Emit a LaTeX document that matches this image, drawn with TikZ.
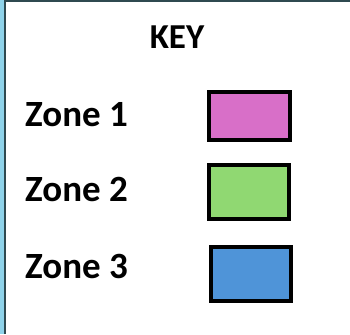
\documentclass[tikz,border=0pt]{standalone}
\usepackage{fontspec}
\setmainfont{Carlito}
\definecolor{zonepink}{HTML}{D86FC8}
\definecolor{zonegreen}{HTML}{90D872}
\definecolor{zoneblue}{HTML}{4F94D8}
\definecolor{edgeblue}{HTML}{8FD3EA}
\definecolor{framegray}{HTML}{2F4A50}
\begin{document}
\begin{tikzpicture}[
  x=1pt, y=-1pt,
  lbl/.style={font=\fontsize{37}{40}\selectfont\bfseries, inner sep=0pt, anchor=base west},
  swatch/.style={draw=black, line width=4pt, inner sep=0pt, minimum width=80pt, minimum height=54pt}
]
  \useasboundingbox (0,0) rectangle (350,334);
  % fundo e moldura
  \fill[white] (0,0) rectangle (350,334);
  \fill[edgeblue] (0,0) rectangle (4.2,334);
  \draw[framegray, line width=1.6pt] (5,334) -- (5,0.8) -- (350,0.8);
  % titulo
  \node[lbl, anchor=base, font=\fontsize{35}{40}\selectfont\bfseries] (key) at (177,49) {KEY};
  % linhas da legenda
  \node[lbl] (z1) at (25,126) {Zone 1};
  \node[lbl] (z2) at (25,201) {Zone 2};
  \node[lbl] (z3) at (25,278) {Zone 3};
  \node[swatch, fill=zonepink, minimum width=81pt, minimum height=48pt] (s1) at (249.5,116) {};
  \node[swatch, fill=zonegreen] (s2) at (249,192) {};
  \node[swatch, fill=zoneblue] (s3) at (251,274) {};
\end{tikzpicture}
\end{document}
